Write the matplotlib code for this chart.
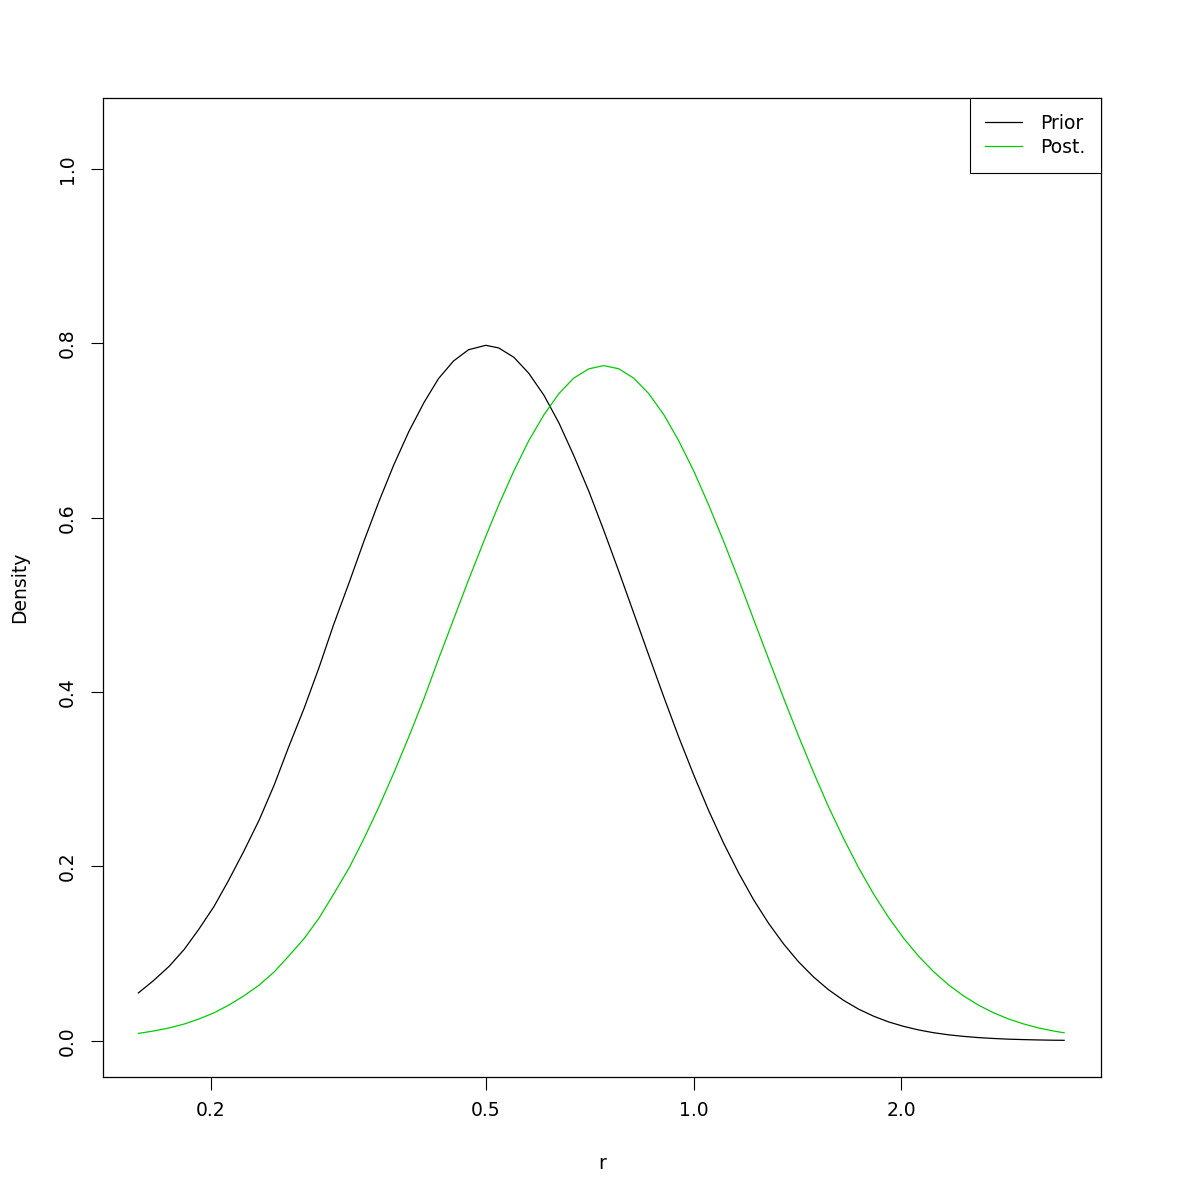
#绘制先验与后验密度 (log x axis)

import matplotlib
matplotlib.use('Agg')
import matplotlib.pyplot as plt
from matplotlib.ticker import FixedLocator, FixedFormatter, NullLocator

# r values (read along the log x axis)
r = [0.157, 0.165, 0.174, 0.183, 0.192, 0.202, 0.212, 0.223, 0.235, 0.247,
     0.259, 0.273, 0.287, 0.301, 0.317, 0.333, 0.350, 0.368, 0.387, 0.407,
     0.427, 0.449, 0.472, 0.500, 0.522, 0.549, 0.577, 0.607, 0.638, 0.670,
     0.705, 0.741, 0.779, 0.819, 0.861, 0.905, 0.951, 1.000, 1.051, 1.105,
     1.162, 1.221, 1.284, 1.350, 1.419, 1.492, 1.568, 1.649, 1.733, 1.822,
     1.916, 2.014, 2.117, 2.226, 2.340, 2.460, 2.586, 2.718, 2.858, 3.004,
     3.158, 3.320, 3.440]

prior = [0.0549, 0.0688, 0.0855, 0.1050, 0.1278, 0.1540, 0.1837, 0.2170, 0.2537, 0.2937,
         0.3366, 0.3820, 0.4291, 0.4773, 0.5256, 0.5730, 0.6184, 0.6609, 0.6992, 0.7324,
         0.7596, 0.7799, 0.7928, 0.7979, 0.7949, 0.7842, 0.7659, 0.7406, 0.7090, 0.6720,
         0.6305, 0.5856, 0.5388, 0.4906, 0.4423, 0.3948, 0.3489, 0.3052, 0.2644, 0.2268,
         0.1925, 0.1619, 0.1347, 0.1110, 0.0905, 0.0731, 0.0585, 0.0463, 0.0363, 0.0282,
         0.0216, 0.0165, 0.0124, 0.0092, 0.0068, 0.0050, 0.0036, 0.0026, 0.0018, 0.0013,
         0.0009, 0.0006, 0.0005]

post = [0.0084, 0.0111, 0.0147, 0.0192, 0.0249, 0.0320, 0.0407, 0.0513, 0.0640, 0.0791,
        0.0969, 0.1175, 0.1412, 0.1682, 0.1983, 0.2317, 0.2681, 0.3074, 0.3491, 0.3928,
        0.4378, 0.4833, 0.5286, 0.5787, 0.6147, 0.6536, 0.6884, 0.7182, 0.7424, 0.7601,
        0.7709, 0.7746, 0.7710, 0.7602, 0.7425, 0.7185, 0.6887, 0.6539, 0.6150, 0.5731,
        0.5290, 0.4837, 0.4381, 0.3931, 0.3495, 0.3077, 0.2684, 0.2320, 0.1986, 0.1684,
        0.1414, 0.1177, 0.0970, 0.0792, 0.0641, 0.0514, 0.0408, 0.0321, 0.0250, 0.0193,
        0.0147, 0.0112, 0.0091]

xticks = [0.2, 0.5, 1.0, 2.0]
xticklabels = ['0.2', '0.5', '1.0', '2.0']
yticks = [0.0, 0.2, 0.4, 0.6, 0.8, 1.0]
yticklabels = ['0.0', '0.2', '0.4', '0.6', '0.8', '1.0']

plt.rcParams['font.family'] = ['DejaVu Sans']

fig = plt.figure(figsize=(12, 12), dpi=100)
ax = fig.add_axes([0.0858, 0.1025, 0.8317, 0.8158])

ax.plot(r, prior, color='black', lw=0.9, label='Prior')
ax.plot(r, post, color='#00CD00', lw=0.9, label='Post.')

ax.set_xscale('log')
ax.set_xlim(0.1395, 3.89)
ax.set_ylim(-0.0416, 1.0816)

ax.xaxis.set_major_locator(FixedLocator(xticks))
ax.xaxis.set_major_formatter(FixedFormatter(xticklabels))
ax.xaxis.set_minor_locator(NullLocator())
ax.set_yticks(yticks)
ax.set_yticklabels(yticklabels, rotation=90, va='center')

ax.tick_params(axis='both', direction='out', length=9, width=0.8, labelsize=13.5, pad=8)
ax.tick_params(axis='y', pad=10)
for s in ax.spines.values():
    s.set_linewidth(0.9)

ax.set_xlabel('r', fontsize=13.5, labelpad=25)
ax.set_ylabel('Density', fontsize=13.5, labelpad=20.5)

leg = ax.legend(loc='upper right', fancybox=False, edgecolor='black', framealpha=1,
                fontsize=13.5, borderaxespad=0, handlelength=1.95, handletextpad=0.95,
                borderpad=0.85, labelspacing=0.27)
leg.get_frame().set_linewidth(0.8)

fig.savefig('out.png', dpi=100)
